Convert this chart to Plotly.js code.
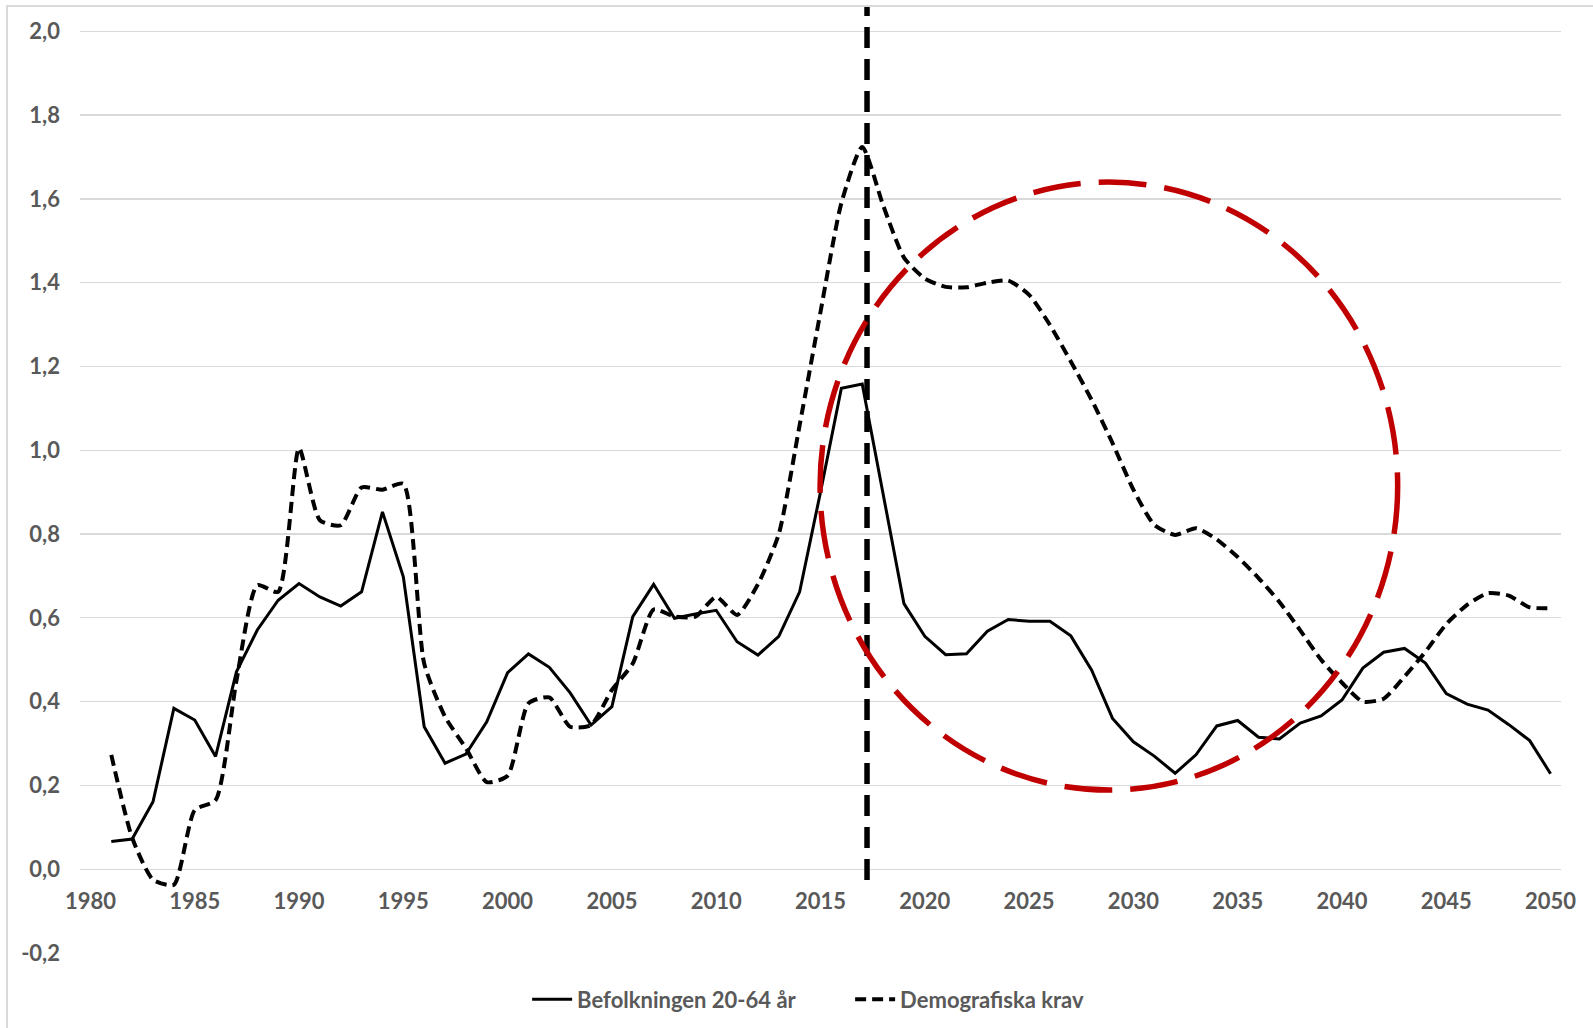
<!DOCTYPE html>
<html>
<head>
<meta charset="utf-8">
<script src="https://cdn.plot.ly/plotly-3.0.1.min.js"></script>
<style>
  html, body { margin: 0; padding: 0; background: #ffffff; }
  #wrap { position: relative; width: 1593px; height: 1028px; }
  #chart { position: absolute; left: 0; top: 0; width: 1593px; height: 1028px; }
  #frame { position: absolute; left: 6px; top: 5px; right: 0; bottom: 0;
           border-left: 2px solid #d9d9d9; border-top: 2px solid #d9d9d9; pointer-events: none; }
</style>
</head>
<body>
<div id="wrap">
  <div id="chart"></div>
  <div id="frame"></div>
</div>
<script>
// ---- data ----
const years = [1981,1982,1983,1984,1985,1986,1987,1988,1989,1990,
               1991,1992,1993,1994,1995,1996,1997,1998,1999,2000,
               2001,2002,2003,2004,2005,2006,2007,2008,2009,2010,
               2011,2012,2013,2014,2015,2016,2017,2018,2019,2020,
               2021,2022,2023,2024,2025,2026,2027,2028,2029,2030,
               2031,2032,2033,2034,2035,2036,2037,2038,2039,2040,
               2041,2042,2043,2044,2045,2046,2047,2048,2049,2050];

const befolkningen = [0.066,0.072,0.161,0.384,0.356,0.269,0.471,0.571,0.642,0.682,
                      0.650,0.628,0.662,0.853,0.698,0.340,0.253,0.275,0.352,0.469,
                      0.514,0.482,0.421,0.344,0.388,0.603,0.680,0.599,0.609,0.618,
                      0.543,0.511,0.556,0.662,0.900,1.148,1.158,0.897,0.634,0.556,
                      0.512,0.514,0.568,0.596,0.592,0.592,0.557,0.475,0.360,0.304,
                      0.270,0.229,0.273,0.342,0.355,0.315,0.311,0.349,0.366,0.404,
                      0.480,0.518,0.527,0.492,0.419,0.394,0.380,0.345,0.307,0.228];

const demografiskaKrav = [0.273,0.075,-0.025,-0.037,0.141,0.165,0.450,0.678,0.662,1.005,
                          0.833,0.821,0.911,0.906,0.920,0.491,0.364,0.289,0.208,0.223,
                          0.396,0.410,0.340,0.344,0.428,0.491,0.620,0.603,0.603,0.650,
                          0.607,0.680,0.800,1.060,1.330,1.590,1.724,1.585,1.460,1.410,
                          1.390,1.389,1.400,1.405,1.371,1.299,1.212,1.120,1.017,0.906,
                          0.822,0.798,0.814,0.787,0.745,0.695,0.638,0.570,0.500,0.445,
                          0.400,0.407,0.460,0.519,0.585,0.631,0.659,0.653,0.625,0.623];

const seriesNames = ["Befolkningen 20-64 år", "Demografiska krav"];

const xTickVals = [1980,1985,1990,1995,2000,2005,2010,2015,2020,2025,2030,2035,2040,2045,2050];
const xTickText = ["1980","1985","1990","1995","2000","2005","2010","2015","2020","2025","2030","2035","2040","2045","2050"];
const yTickVals = [-0.2,0,0.2,0.4,0.6,0.8,1.0,1.2,1.4,1.6,1.8,2.0];
const yTickText = ["-0,2","0,0","0,2","0,4","0,6","0,8","1,0","1,2","1,4","1,6","1,8","2,0"];

// marker year for the vertical dashed line and the highlighted region (circle)
const markerYear = 2017.23;
const circleX = [2014.98, 2042.67];
const circleY = [0.189, 1.640];

// ---- chart ----
const FONT = "Lato, 'Open Sans', sans-serif";
const GREY = "#595959";

const traces = [
  {
    x: years, y: befolkningen, name: seriesNames[0], type: "scatter", mode: "lines",
    line: { color: "#000000", width: 3 }
  },
  {
    x: years, y: demografiskaKrav, name: seriesNames[1], type: "scatter", mode: "lines",
    line: { color: "#000000", width: 4, dash: "11px,6px", shape: "spline", smoothing: 0.6 }
  }
];

const layout = {
  width: 1593, height: 1028,
  margin: { l: 80, r: 32, t: 7, b: 75 },
  paper_bgcolor: "#ffffff", plot_bgcolor: "#ffffff",
  showlegend: true,
  legend: {
    orientation: "h", x: 0.52, xanchor: "center", y: -0.049, yanchor: "middle",
    font: { family: FONT, size: 22, color: GREY, weight: "bold" },
    itemwidth: 40, tracegroupgap: 0, entrywidth: 268, entrywidthmode: "pixels"
  },
  xaxis: {
    range: [1979.5, 2050.5],
    anchor: "free", position: 0.0885,
    tickmode: "array", tickvals: xTickVals, ticktext: xTickText,
    showgrid: false, zeroline: false, showline: false, ticks: "",
    ticklabelstandoff: 17,
    tickfont: { family: FONT, size: 22, color: GREY, weight: "bold" }
  },
  yaxis: {
    range: [-0.2, 2.058],
    tickmode: "array", tickvals: yTickVals, ticktext: yTickText,
    showgrid: true, gridcolor: "#d9d9d9", gridwidth: 1.3,
    zeroline: false, showline: false, ticks: "",
    ticklabelstandoff: 19,
    tickfont: { family: FONT, size: 22, color: GREY, weight: "bold" }
  },
  shapes: [
    {
      type: "line", xref: "x", yref: "y",
      x0: markerYear, x1: markerYear, y0: -0.026, y1: 2.058,
      line: { color: "#000000", width: 5.5, dash: "21px,11px" }, layer: "above"
    },
    {
      type: "circle", xref: "x", yref: "y",
      x0: circleX[0], x1: circleX[1], y0: circleY[0], y1: circleY[1],
      line: { color: "#C00000", width: 5.5, dash: "48px,18px" }, layer: "above"
    }
  ],
  hovermode: false
};

Plotly.newPlot("chart", traces, layout, { displayModeBar: false, staticPlot: true });
</script>
</body>
</html>
